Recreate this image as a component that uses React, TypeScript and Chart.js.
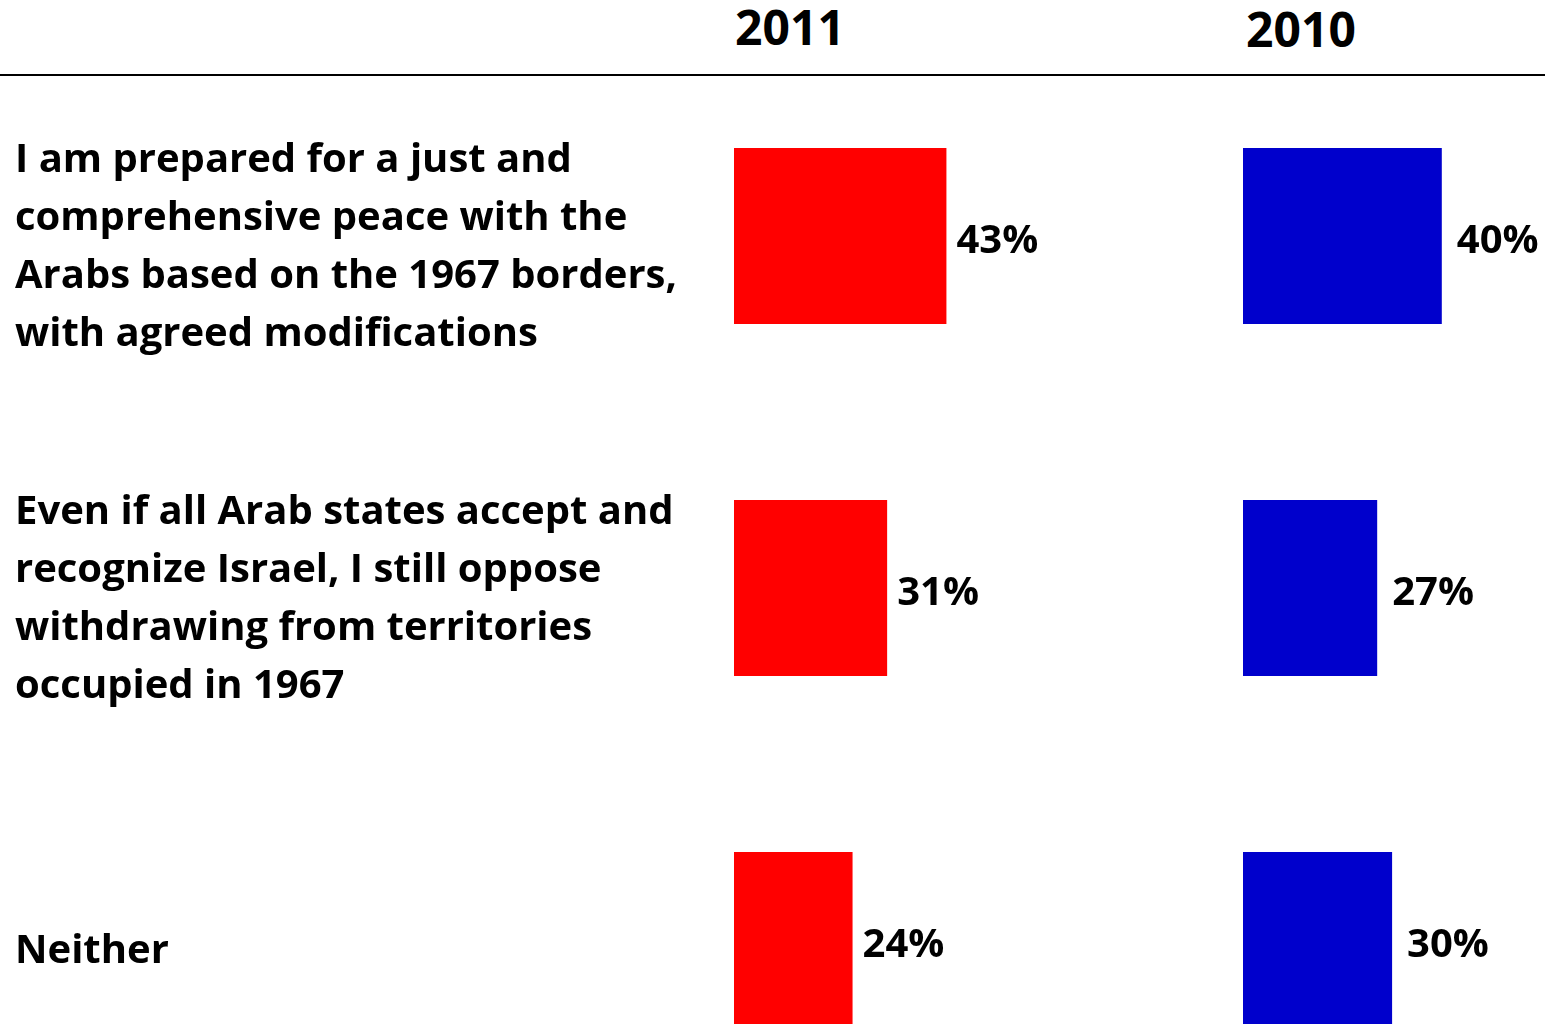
import React, { useEffect, useRef } from "react";
import { Chart, registerables } from "chart.js";

Chart.register(...registerables);

const categories: (string | string[])[] = [
  ["I am prepared for a just and", "comprehensive peace with the", "Arabs based on the 1967 borders,", "with agreed modifications"],
  ["Even if all Arab states accept and", "recognize Israel, I still oppose", "withdrawing from territories", "occupied in 1967"],
  "Neither",
];
const years = ["2011", "2010"];
const values2011 = [43, 31, 24];
const values2010 = [40, 27, 30];
const colors = ["#FF0000", "#0000CC"];

const FONT = "'Open Sans', Lato, sans-serif";

function valueLabels(offset: number) {
  return {
    id: "valueLabels",
    afterDatasetsDraw(chart: any) {
      const ctx = chart.ctx;
      ctx.save();
      ctx.font = `bold 40px ${FONT}`;
      ctx.fillStyle = "#000";
      ctx.textAlign = "left";
      ctx.textBaseline = "middle";
      chart.data.datasets.forEach((ds: any, i: number) => {
        chart.getDatasetMeta(i).data.forEach((el: any, j: number) => {
          ctx.fillText(`${ds.data[j]}%`, el.x + offset, el.y + 6);
        });
      });
      ctx.restore();
    },
  };
}

function makeConfig(label: string, values: number[], color: string, showY: boolean, max: number, padLeft: number, padRight: number, offset: number): any {
  const yScale: any = {
    display: showY,
    grid: { display: false },
    border: { display: false },
    ticks: {
      crossAlign: "far",
      color: "#000",
      padding: 0,
      labelOffset: 12,
      autoSkip: false,
      font: { family: FONT, size: 40, weight: "bold", lineHeight: "58px" },
    },
  };
  if (showY) {
    yScale.afterFit = (scale: any) => {
      scale.width = 719;
      scale.paddingTop = 0;
      scale.paddingBottom = 0;
    };
  }
  return {
    type: "bar",
    data: {
      labels: categories,
      datasets: [
        {
          label,
          data: values,
          backgroundColor: color,
          borderWidth: 0,
          barPercentage: 0.5,
          categoryPercentage: 1,
        },
      ],
    },
    options: {
      indexAxis: "y",
      responsive: false,
      animation: false,
      layout: { padding: { top: 60, bottom: 0, left: padLeft, right: padRight } },
      plugins: { legend: { display: false }, tooltip: { enabled: false }, title: { display: false } },
      scales: {
        x: { display: false, min: 0, max },
        y: yScale,
      },
    },
    plugins: [valueLabels(offset)],
  };
}

export default function App() {
  const ref1 = useRef<HTMLCanvasElement>(null);
  const ref2 = useRef<HTMLCanvasElement>(null);

  useEffect(() => {
    const c1 = new Chart(ref1.current as HTMLCanvasElement, makeConfig(years[0], values2011, colors[0], true, 50, 15, 1100 - 15 - 719 - 247, 10));
    const c2 = new Chart(ref2.current as HTMLCanvasElement, makeConfig(years[1], values2010, colors[1], false, 50, 0, 302 - 248.5, 15));
    return () => {
      c1.destroy();
      c2.destroy();
    };
  }, []);

  const headStyle = (center: number, top: number): React.CSSProperties => ({
    position: "absolute",
    left: center - 100,
    top,
    width: 200,
    textAlign: "center",
    fontFamily: FONT,
    fontWeight: "bold",
    fontSize: 48,
    lineHeight: "48px",
    color: "#000",
  });

  return (
    <div style={{ position: "fixed", left: 0, top: 0, width: 1545, height: 1024, overflow: "hidden", background: "#fff" }}>
      <div style={headStyle(790, 3)}>{years[0]}</div>
      <div style={headStyle(1301, 5)}>{years[1]}</div>
      <div style={{ position: "absolute", left: 0, top: 74, width: 1545, height: 2, background: "#000" }} />
      <canvas ref={ref1} width={1100} height={1116} style={{ position: "absolute", left: 0, top: 0, width: 1100, height: 1116 }} />
      <canvas ref={ref2} width={302} height={1116} style={{ position: "absolute", left: 1243, top: 0, width: 302, height: 1116 }} />
    </div>
  );
}
